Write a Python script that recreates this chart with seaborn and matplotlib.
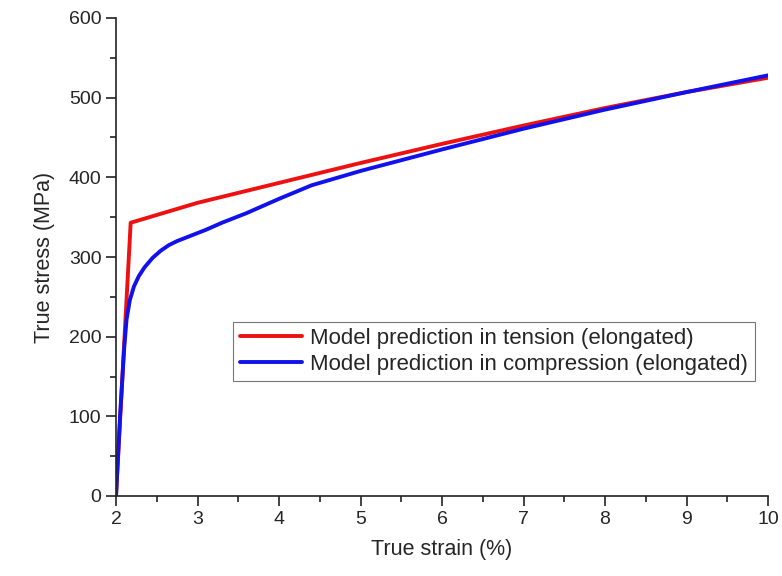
import matplotlib
matplotlib.use("Agg")
import matplotlib.pyplot as plt
import seaborn as sns
import pandas as pd
from matplotlib.ticker import MultipleLocator

sns.set_theme(style="ticks")
plt.rcParams['font.family'] = ['Liberation Sans', 'DejaVu Sans']

t_strain = [2.0, 2.18, 3, 4, 5, 6, 7, 8, 9, 10]
t_stress = [0, 343, 368, 393, 418, 442, 465, 487, 507, 525]
c_strain = [2.0, 2.05, 2.1, 2.13, 2.17, 2.22, 2.28, 2.35, 2.45, 2.55, 2.65, 2.75, 2.9, 3.1, 3.3, 3.6, 4.0, 4.4, 5, 6, 7, 8, 9, 10]
c_stress = [0, 100, 185, 222, 246, 263, 276, 287, 299, 308, 315, 320, 326, 334, 343, 355, 373, 390, 408, 435, 461, 485, 507, 528]

df = pd.concat([
    pd.DataFrame({"strain": t_strain, "stress": t_stress, "s": "Model prediction in tension (elongated)"}),
    pd.DataFrame({"strain": c_strain, "stress": c_stress, "s": "Model prediction in compression (elongated)"}),
])

fig = plt.figure(figsize=(7.82, 5.76), dpi=100)
ax = fig.add_axes([116/782, 80/576, 652/782, 478/576])
sns.lineplot(data=df, x="strain", y="stress", hue="s", palette=["#ee1111", "#1111ee"],
             linewidth=2.8, ax=ax, sort=False, estimator=None)
ax.set_xlim(2, 10)
ax.set_ylim(0, 600)
ax.xaxis.set_major_locator(MultipleLocator(1))
ax.xaxis.set_minor_locator(MultipleLocator(0.5))
ax.yaxis.set_major_locator(MultipleLocator(100))
ax.yaxis.set_minor_locator(MultipleLocator(50))
ax.tick_params(which="major", length=7, width=1.2, labelsize=14, color="#222222")
ax.tick_params(which="minor", length=4, width=1.2, color="#222222")
for s in ["top", "right"]:
    ax.spines[s].set_visible(False)
for s in ["left", "bottom"]:
    ax.spines[s].set_linewidth(1.2)
    ax.spines[s].set_color("#222222")
ax.set_xlabel("True strain (%)", fontsize=15.5, labelpad=8)
ax.set_ylabel("True stress (MPa)", fontsize=15.5, labelpad=10)
leg = ax.legend(title=None, loc="lower left", bbox_to_anchor=(0.18, 0.24), fontsize=16,
                frameon=True, fancybox=False, borderpad=0.3, handlelength=2.8,
                labelspacing=0.2, handletextpad=0.35, borderaxespad=0)
leg.get_frame().set_edgecolor("#555555")
leg.get_frame().set_linewidth(0.8)
fig.savefig("out.png", dpi=100)
